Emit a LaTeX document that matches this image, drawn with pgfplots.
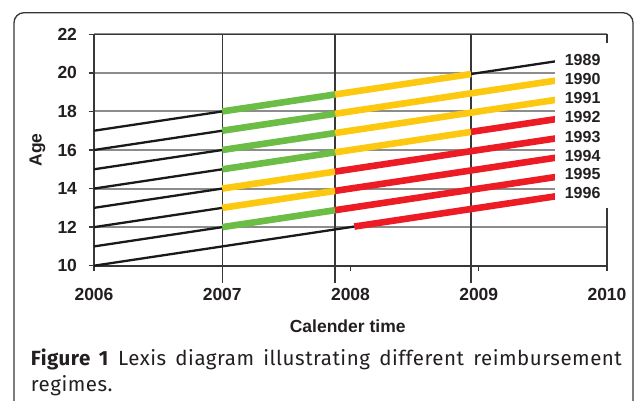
\documentclass[border=0pt]{standalone}
\usepackage{fontspec}
\setmainfont{Liberation Sans}
\newfontfamily\capfont[LetterSpace=2.5]{Fira Sans}
\usepackage{pgfplots}
\pgfplotsset{compat=1.18}
\definecolor{lgreen}{RGB}{108,189,69}
\definecolor{lyellow}{RGB}{253,200,16}
\definecolor{lred}{RGB}{237,28,36}
\definecolor{txt}{RGB}{35,31,32}
\definecolor{gridc}{RGB}{140,140,140}
\definecolor{axc}{RGB}{55,55,55}
\begin{document}
\begin{tikzpicture}
\useasboundingbox (-94pt,-134.3pt) rectangle (542pt,265.7pt);
\begin{axis}[
  at={(0pt,0pt)}, anchor=south west,
  scale only axis, width=513pt, height=231.4pt,
  xmin=2006, xmax=2010, ymin=10, ymax=22,
  xtick={2006,2007,2008,2009,2010}, xticklabels={2006,2007,2008,2009,2010},
  ytick={10,12,14,16,18,20,22}, yticklabels={10,12,14,16,18,20,22},
  tick pos=left, tick align=outside,
  major tick length=5.5pt,
  every tick/.style={axc, line width=1.3pt},
  ymajorgrids, grid style={gridc, line width=1.9pt},
  axis line style={axc, line width=1.6pt},
  clip=false,
  tick label style={font=\fontsize{17.5}{20}\selectfont\bfseries, text=txt},
  xticklabel style={yshift=-14pt},
  yticklabel style={xshift=-8pt},
]
% period boundaries
\draw[axc, line width=1.4pt] (axis cs:2007,22) -- (axis cs:2007,9.118);
\draw[axc, line width=1.4pt] (axis cs:2007.88,22) -- (axis cs:2007.88,9.118);
\draw[axc, line width=1.4pt] (axis cs:2008.94,22) -- (axis cs:2008.94,9.118);
% black (no reimbursement) parts of the cohort lines
\addplot[color=black!90, line width=2.3pt, unbounded coords=jump] coordinates {
 (2006,17) (2007,18) (2007.5,nan) (2008.94,19.94) (2009.6,20.6) (2009.7,nan)
 (2006,16) (2007,17) (2007.5,nan)
 (2006,15) (2007,16) (2007.5,nan)
 (2006,14) (2007,15) (2007.5,nan)
 (2006,13) (2007,14) (2007.5,nan)
 (2006,12) (2007,13) (2007.5,nan)
 (2006,11) (2007,12) (2007.5,nan)
 (2006,10) (2008.03,12.03)
};
% green
\addplot[color=lgreen, line width=6.6pt, unbounded coords=jump] coordinates {
 (2007,18) (2007.88,18.88) (2007.9,nan)
 (2007,17) (2007.88,17.88) (2007.9,nan)
 (2007,16) (2007.88,16.88) (2007.9,nan)
 (2007,15) (2007.88,15.88) (2007.9,nan)
 (2007,12) (2007.88,12.88)
};
% yellow
\addplot[color=lyellow, line width=6.6pt, unbounded coords=jump] coordinates {
 (2007.88,18.88) (2008.94,19.94) (2009,nan)
 (2007.88,17.88) (2009.6,19.6) (2009.7,nan)
 (2007.88,16.88) (2009.6,18.6) (2009.7,nan)
 (2007.88,15.88) (2008.94,16.94) (2009,nan)
 (2007,14) (2007.88,14.88) (2007.9,nan)
 (2007,13) (2007.88,13.88)
};
% red
\addplot[color=lred, line width=6.6pt, unbounded coords=jump] coordinates {
 (2008.94,16.94) (2009.6,17.6) (2009.7,nan)
 (2007.88,14.88) (2009.6,16.6) (2009.7,nan)
 (2007.88,13.88) (2009.6,15.6) (2009.7,nan)
 (2007.88,12.88) (2009.6,14.6) (2009.7,nan)
 (2008.03,12.03) (2009.6,13.6)
};
% label box
\fill[white] (axis cs:2009.594,12.99) rectangle (axis cs:2010.06,21.55);
\begin{scope}[every node/.style={font=\fontsize{16}{18}\selectfont\bfseries, text=txt, inner sep=0pt}]
\node at (axis cs:2009.81,20.668) {1989};
\node at (axis cs:2009.81,19.683) {1990};
\node at (axis cs:2009.81,18.712) {1991};
\node at (axis cs:2009.81,17.727) {1992};
\node at (axis cs:2009.81,16.69) {1993};
\node at (axis cs:2009.81,15.705) {1994};
\node at (axis cs:2009.81,14.74) {1995};
\node at (axis cs:2009.81,13.755) {1996};
\end{scope}
\end{axis}
\node[rotate=90, font=\fontsize{17.5}{20}\selectfont\bfseries, text=txt] at (-56.5pt,115.7pt) {Age};
\node[font=\fontsize{17.5}{20}\selectfont\bfseries, text=txt] at (253.7pt,-60.1pt) {Calender time};
\node[anchor=base west, inner sep=0pt, text width=591pt, align=justify, font=\capfont\fontsize{20.5}{26}\selectfont, text=txt] at (-63.3pt,-100pt) {\textbf{Figure 1} Lexis diagram illustrating different reimbursement\linebreak regimes.};
\draw[axc, line width=1.3pt, rounded corners=10pt] (-80pt,-160pt) -- (-80pt,253pt) -- (539pt,253pt) -- (539pt,-160pt);
\end{tikzpicture}
\end{document}
